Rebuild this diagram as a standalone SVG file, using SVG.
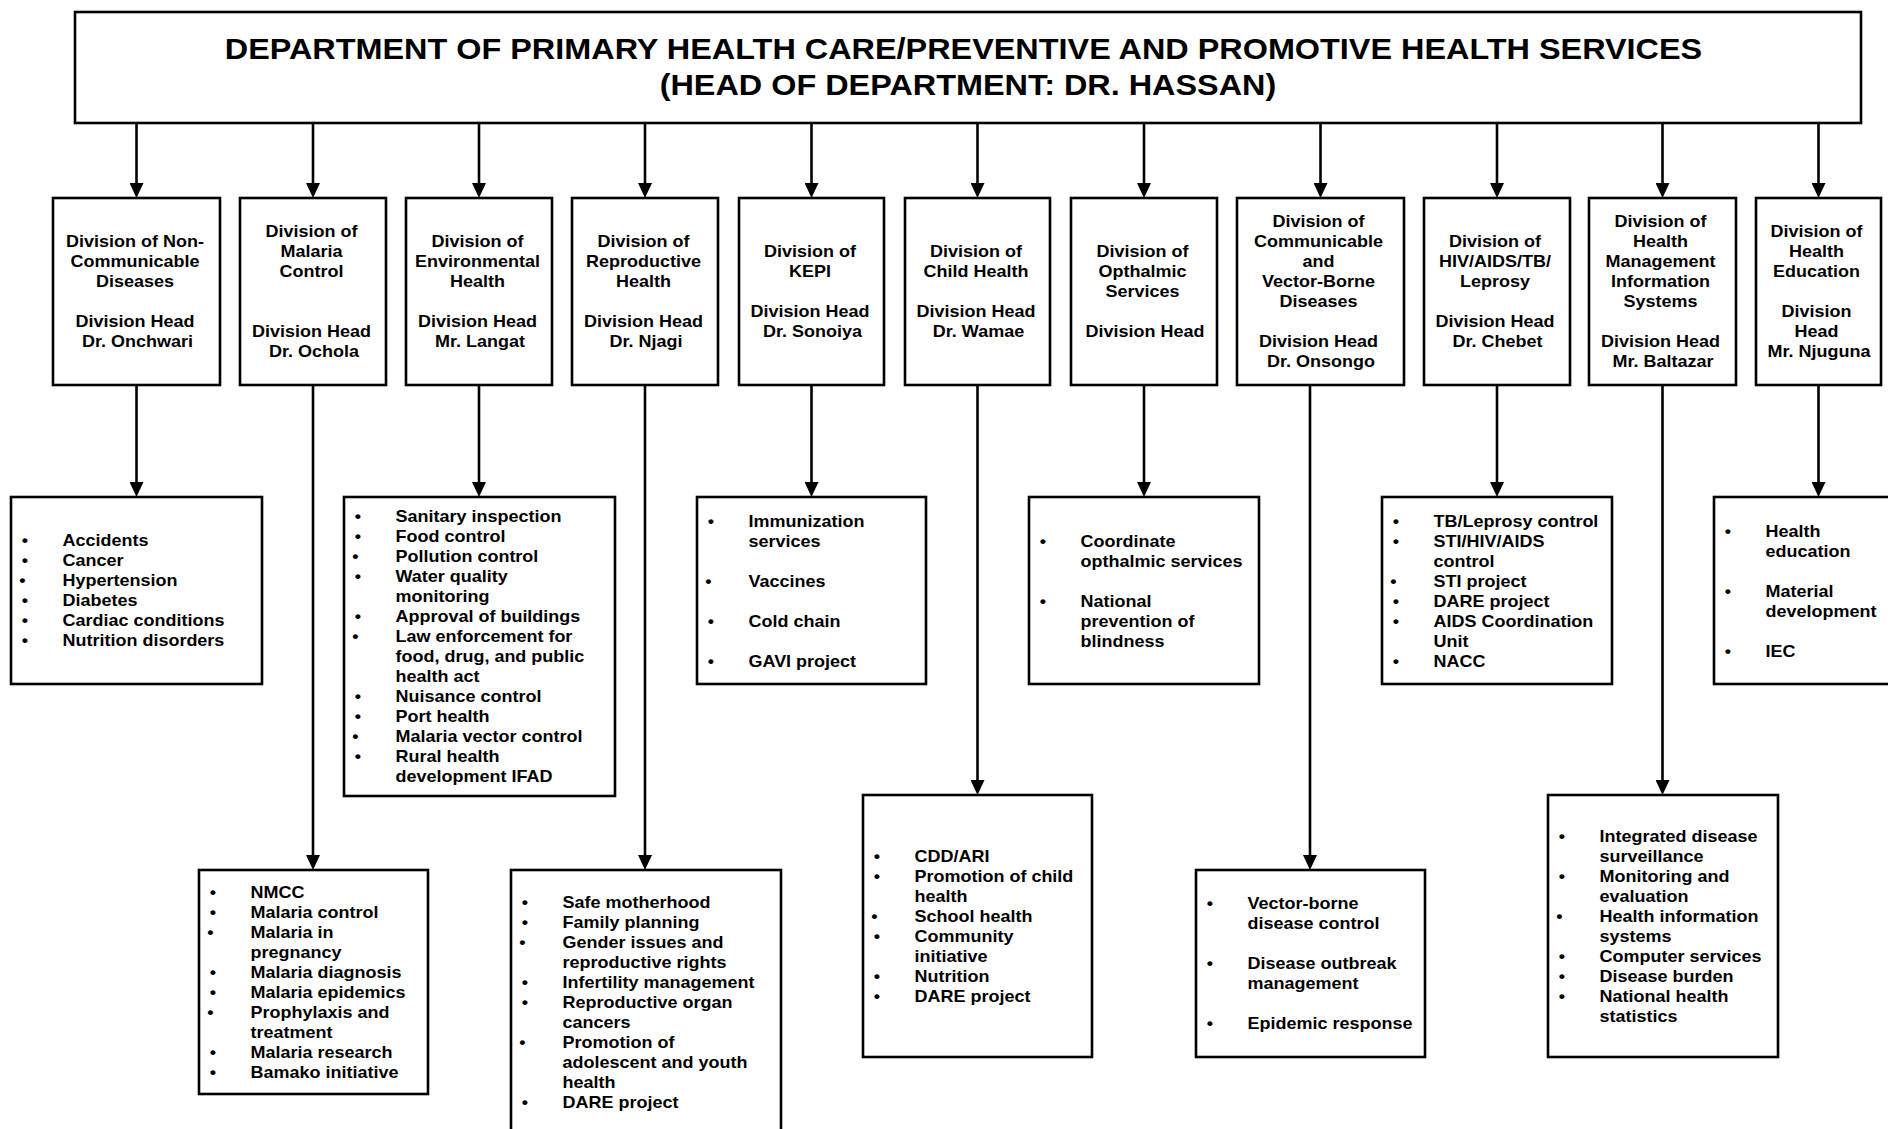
<svg xmlns="http://www.w3.org/2000/svg" width="1888" height="1129" viewBox="0 0 1888 1129">
  <defs>
    <style>
      /* all lettering is set slightly condensed vertically; y values in text are pre-divided by 0.9 */
      text { font-family: "Liberation Sans", Arial, Helvetica, sans-serif; font-weight: bold; fill: #000;
             transform: scale(1, 0.9); transform-origin: 0 0; transform-box: view-box; }
      .title { font-size: 32.4px; text-anchor: middle; }
      .dv { font-size: 18px; text-anchor: middle; }
      .li { font-size: 18px; }
      .bu { font-size: 18px; text-anchor: middle; }
      .box { fill: #fff; stroke: #000; stroke-width: 2.6; }
      .wire { fill: none; stroke: #000; stroke-width: 2.6; marker-end: url(#arrow); }
    </style>
    <marker id="arrow" viewBox="0 0 15 14" refX="7" refY="7" markerWidth="15" markerHeight="14" markerUnits="userSpaceOnUse" orient="auto">
      <path d="M0,0 L15,7 L0,14 z" fill="#000"/>
    </marker>
  </defs>

  <rect width="1888" height="1129" fill="#fff"/>

  <!-- connectors: department to divisions, divisions to their service lists -->
  <g id="connectors">
    <line class="wire" x1="136.5" y1="123" x2="136.5" y2="190"/>
    <line class="wire" x1="313" y1="123" x2="313" y2="190"/>
    <line class="wire" x1="479" y1="123" x2="479" y2="190"/>
    <line class="wire" x1="645" y1="123" x2="645" y2="190"/>
    <line class="wire" x1="811.5" y1="123" x2="811.5" y2="190"/>
    <line class="wire" x1="977.5" y1="123" x2="977.5" y2="190"/>
    <line class="wire" x1="1144" y1="123" x2="1144" y2="190"/>
    <line class="wire" x1="1320.5" y1="123" x2="1320.5" y2="190"/>
    <line class="wire" x1="1497" y1="123" x2="1497" y2="190"/>
    <line class="wire" x1="1662.5" y1="123" x2="1662.5" y2="190"/>
    <line class="wire" x1="1818.5" y1="123" x2="1818.5" y2="190"/>

    <line class="wire" x1="136.5" y1="385" x2="136.5" y2="489"/>
    <line class="wire" x1="313" y1="385" x2="313" y2="862"/>
    <line class="wire" x1="479" y1="385" x2="479" y2="489"/>
    <line class="wire" x1="645" y1="385" x2="645" y2="862"/>
    <line class="wire" x1="811.5" y1="385" x2="811.5" y2="489"/>
    <line class="wire" x1="977.5" y1="385" x2="977.5" y2="787"/>
    <line class="wire" x1="1144" y1="385" x2="1144" y2="489"/>
    <line class="wire" x1="1310" y1="385" x2="1310" y2="862"/>
    <line class="wire" x1="1497" y1="385" x2="1497" y2="489"/>
    <line class="wire" x1="1662.5" y1="385" x2="1662.5" y2="787"/>
    <line class="wire" x1="1818.5" y1="385" x2="1818.5" y2="489"/>
  </g>

  <!-- department -->
  <g id="department">
    <rect class="box" x="75" y="12" width="1786" height="111"/>
    <text class="title">
      <tspan x="968" y="66.1">DEPARTMENT OF PRIMARY HEALTH CARE/PREVENTIVE AND PROMOTIVE HEALTH SERVICES</tspan>
      <tspan x="968" y="105.6">(HEAD OF DEPARTMENT: DR. HASSAN)</tspan>
    </text>
  </g>

  <!-- divisions -->
  <g id="div-ncd">
    <rect class="box" x="53" y="198" width="167" height="187"/>
    <text class="dv">
      <tspan x="137.5" y="274.44">Division of Non-</tspan>
      <tspan x="137.5" y="296.67">Communicable</tspan>
      <tspan x="137.5" y="318.89">Diseases</tspan>
      <tspan x="137.5" y="363.33">Division Head</tspan>
      <tspan x="137.5" y="385.56">Dr. Onchwari</tspan>
    </text>
  </g>
  <g id="div-malaria">
    <rect class="box" x="240" y="198" width="146" height="187"/>
    <text class="dv">
      <tspan x="314" y="263.33">Division of</tspan>
      <tspan x="314" y="285.56">Malaria</tspan>
      <tspan x="314" y="307.78">Control</tspan>
      <tspan x="314" y="374.44">Division Head</tspan>
      <tspan x="314" y="396.67">Dr. Ochola</tspan>
    </text>
  </g>
  <g id="div-environmental">
    <rect class="box" x="406" y="198" width="146" height="187"/>
    <text class="dv">
      <tspan x="480" y="274.44">Division of</tspan>
      <tspan x="480" y="296.67">Environmental</tspan>
      <tspan x="480" y="318.89">Health</tspan>
      <tspan x="480" y="363.33">Division Head</tspan>
      <tspan x="480" y="385.56">Mr. Langat</tspan>
    </text>
  </g>
  <g id="div-reproductive">
    <rect class="box" x="572" y="198" width="146" height="187"/>
    <text class="dv">
      <tspan x="646" y="274.44">Division of</tspan>
      <tspan x="646" y="296.67">Reproductive</tspan>
      <tspan x="646" y="318.89">Health</tspan>
      <tspan x="646" y="363.33">Division Head</tspan>
      <tspan x="646" y="385.56">Dr. Njagi</tspan>
    </text>
  </g>
  <g id="div-kepi">
    <rect class="box" x="739" y="198" width="145" height="187"/>
    <text class="dv">
      <tspan x="812.5" y="285.56">Division of</tspan>
      <tspan x="812.5" y="307.78">KEPI</tspan>
      <tspan x="812.5" y="352.22">Division Head</tspan>
      <tspan x="812.5" y="374.44">Dr. Sonoiya</tspan>
    </text>
  </g>
  <g id="div-child">
    <rect class="box" x="905" y="198" width="145" height="187"/>
    <text class="dv">
      <tspan x="978.5" y="285.56">Division of</tspan>
      <tspan x="978.5" y="307.78">Child Health</tspan>
      <tspan x="978.5" y="352.22">Division Head</tspan>
      <tspan x="978.5" y="374.44">Dr. Wamae</tspan>
    </text>
  </g>
  <g id="div-opthalmic">
    <rect class="box" x="1071" y="198" width="146" height="187"/>
    <text class="dv">
      <tspan x="1145" y="285.56">Division of</tspan>
      <tspan x="1145" y="307.78">Opthalmic</tspan>
      <tspan x="1145" y="330">Services</tspan>
      <tspan x="1145" y="374.44">Division Head</tspan>
    </text>
  </g>
  <g id="div-communicable">
    <rect class="box" x="1237" y="198" width="167" height="187"/>
    <text class="dv">
      <tspan x="1321" y="252.22">Division of</tspan>
      <tspan x="1321" y="274.44">Communicable</tspan>
      <tspan x="1321" y="296.67">and</tspan>
      <tspan x="1321" y="318.89">Vector-Borne</tspan>
      <tspan x="1321" y="341.11">Diseases</tspan>
      <tspan x="1321" y="385.56">Division Head</tspan>
      <tspan x="1321" y="407.78">Dr. Onsongo</tspan>
    </text>
  </g>
  <g id="div-hiv">
    <rect class="box" x="1424" y="198" width="146" height="187"/>
    <text class="dv">
      <tspan x="1497.5" y="274.44">Division of</tspan>
      <tspan x="1497.5" y="296.67">HIV/AIDS/TB/</tspan>
      <tspan x="1497.5" y="318.89">Leprosy</tspan>
      <tspan x="1497.5" y="363.33">Division Head</tspan>
      <tspan x="1497.5" y="385.56">Dr. Chebet</tspan>
    </text>
  </g>
  <g id="div-hmis">
    <rect class="box" x="1589" y="198" width="147" height="187"/>
    <text class="dv">
      <tspan x="1663" y="252.22">Division of</tspan>
      <tspan x="1663" y="274.44">Health</tspan>
      <tspan x="1663" y="296.67">Management</tspan>
      <tspan x="1663" y="318.89">Information</tspan>
      <tspan x="1663" y="341.11">Systems</tspan>
      <tspan x="1663" y="385.56">Division Head</tspan>
      <tspan x="1663" y="407.78">Mr. Baltazar</tspan>
    </text>
  </g>
  <g id="div-health-education">
    <rect class="box" x="1756" y="198" width="125" height="187"/>
    <text class="dv">
      <tspan x="1819" y="263.33">Division of</tspan>
      <tspan x="1819" y="285.56">Health</tspan>
      <tspan x="1819" y="307.78">Education</tspan>
      <tspan x="1819" y="352.22">Division</tspan>
      <tspan x="1819" y="374.44">Head</tspan>
      <tspan x="1819" y="396.67">Mr. Njuguna</tspan>
    </text>
  </g>

  <!-- service lists -->
  <g id="svc-ncd">
    <rect class="box" x="11" y="497" width="251" height="187"/>
    <text class="bu">
      <tspan x="25" y="606.67">•</tspan><tspan x="25" y="628.89">•</tspan><tspan x="25" y="651.11">•</tspan>
      <tspan x="25" y="673.33">•</tspan><tspan x="25" y="695.56">•</tspan><tspan x="25" y="717.78">•</tspan>
    </text>
    <text class="li">
      <tspan x="62.5" y="606.67">Accidents</tspan>
      <tspan x="62.5" y="628.89">Cancer</tspan>
      <tspan x="62.5" y="651.11">Hypertension</tspan>
      <tspan x="62.5" y="673.33">Diabetes</tspan>
      <tspan x="62.5" y="695.56">Cardiac conditions</tspan>
      <tspan x="62.5" y="717.78">Nutrition disorders</tspan>
    </text>
  </g>
  <g id="svc-environmental">
    <rect class="box" x="344" y="497" width="271" height="299"/>
    <text class="bu">
      <tspan x="358" y="580">•</tspan><tspan x="358" y="602.22">•</tspan><tspan x="358" y="624.44">•</tspan>
      <tspan x="358" y="646.67">•</tspan><tspan x="358" y="691.11">•</tspan><tspan x="358" y="713.33">•</tspan>
      <tspan x="358" y="780">•</tspan><tspan x="358" y="802.22">•</tspan><tspan x="358" y="824.44">•</tspan>
      <tspan x="358" y="846.67">•</tspan>
    </text>
    <text class="li">
      <tspan x="395.5" y="580">Sanitary inspection</tspan>
      <tspan x="395.5" y="602.22">Food control</tspan>
      <tspan x="395.5" y="624.44">Pollution control</tspan>
      <tspan x="395.5" y="646.67">Water quality</tspan>
      <tspan x="395.5" y="668.89">monitoring</tspan>
      <tspan x="395.5" y="691.11">Approval of buildings</tspan>
      <tspan x="395.5" y="713.33">Law enforcement for</tspan>
      <tspan x="395.5" y="735.56">food, drug, and public</tspan>
      <tspan x="395.5" y="757.78">health act</tspan>
      <tspan x="395.5" y="780">Nuisance control</tspan>
      <tspan x="395.5" y="802.22">Port health</tspan>
      <tspan x="395.5" y="824.44">Malaria vector control</tspan>
      <tspan x="395.5" y="846.67">Rural health</tspan>
      <tspan x="395.5" y="868.89">development IFAD</tspan>
    </text>
  </g>
  <g id="svc-malaria">
    <rect class="box" x="199" y="870" width="229" height="224"/>
    <text class="bu">
      <tspan x="213" y="997.78">•</tspan><tspan x="213" y="1020">•</tspan><tspan x="213" y="1042.22">•</tspan>
      <tspan x="213" y="1086.67">•</tspan><tspan x="213" y="1108.89">•</tspan><tspan x="213" y="1131.11">•</tspan>
      <tspan x="213" y="1175.56">•</tspan><tspan x="213" y="1197.78">•</tspan>
    </text>
    <text class="li">
      <tspan x="250.5" y="997.78">NMCC</tspan>
      <tspan x="250.5" y="1020">Malaria control</tspan>
      <tspan x="250.5" y="1042.22">Malaria in</tspan>
      <tspan x="250.5" y="1064.44">pregnancy</tspan>
      <tspan x="250.5" y="1086.67">Malaria diagnosis</tspan>
      <tspan x="250.5" y="1108.89">Malaria epidemics</tspan>
      <tspan x="250.5" y="1131.11">Prophylaxis and</tspan>
      <tspan x="250.5" y="1153.33">treatment</tspan>
      <tspan x="250.5" y="1175.56">Malaria research</tspan>
      <tspan x="250.5" y="1197.78">Bamako initiative</tspan>
    </text>
  </g>
  <g id="svc-reproductive">
    <rect class="box" x="511" y="870" width="270" height="275"/>
    <text class="bu">
      <tspan x="525" y="1008.89">•</tspan><tspan x="525" y="1031.11">•</tspan><tspan x="525" y="1053.33">•</tspan>
      <tspan x="525" y="1097.78">•</tspan><tspan x="525" y="1120">•</tspan><tspan x="525" y="1164.44">•</tspan>
      <tspan x="525" y="1231.11">•</tspan>
    </text>
    <text class="li">
      <tspan x="562.5" y="1008.89">Safe motherhood</tspan>
      <tspan x="562.5" y="1031.11">Family planning</tspan>
      <tspan x="562.5" y="1053.33">Gender issues and</tspan>
      <tspan x="562.5" y="1075.56">reproductive rights</tspan>
      <tspan x="562.5" y="1097.78">Infertility management</tspan>
      <tspan x="562.5" y="1120">Reproductive organ</tspan>
      <tspan x="562.5" y="1142.22">cancers</tspan>
      <tspan x="562.5" y="1164.44">Promotion of</tspan>
      <tspan x="562.5" y="1186.67">adolescent and youth</tspan>
      <tspan x="562.5" y="1208.89">health</tspan>
      <tspan x="562.5" y="1231.11">DARE project</tspan>
    </text>
  </g>
  <g id="svc-kepi">
    <rect class="box" x="697" y="497" width="229" height="187"/>
    <text class="bu">
      <tspan x="711" y="585.56">•</tspan><tspan x="711" y="652.22">•</tspan>
      <tspan x="711" y="696.67">•</tspan><tspan x="711" y="741.11">•</tspan>
    </text>
    <text class="li">
      <tspan x="748.5" y="585.56">Immunization</tspan>
      <tspan x="748.5" y="607.78">services</tspan>
      <tspan x="748.5" y="652.22">Vaccines</tspan>
      <tspan x="748.5" y="696.67">Cold chain</tspan>
      <tspan x="748.5" y="741.11">GAVI project</tspan>
    </text>
  </g>
  <g id="svc-child">
    <rect class="box" x="863" y="795" width="229" height="262"/>
    <text class="bu">
      <tspan x="877" y="957.78">•</tspan><tspan x="877" y="980">•</tspan><tspan x="877" y="1024.44">•</tspan>
      <tspan x="877" y="1046.67">•</tspan><tspan x="877" y="1091.11">•</tspan><tspan x="877" y="1113.33">•</tspan>
    </text>
    <text class="li">
      <tspan x="914.5" y="957.78">CDD/ARI</tspan>
      <tspan x="914.5" y="980">Promotion of child</tspan>
      <tspan x="914.5" y="1002.22">health</tspan>
      <tspan x="914.5" y="1024.44">School health</tspan>
      <tspan x="914.5" y="1046.67">Community</tspan>
      <tspan x="914.5" y="1068.89">initiative</tspan>
      <tspan x="914.5" y="1091.11">Nutrition</tspan>
      <tspan x="914.5" y="1113.33">DARE project</tspan>
    </text>
  </g>
  <g id="svc-opthalmic">
    <rect class="box" x="1029" y="497" width="230" height="187"/>
    <text class="bu">
      <tspan x="1043" y="607.78">•</tspan><tspan x="1043" y="674.44">•</tspan>
    </text>
    <text class="li">
      <tspan x="1080.5" y="607.78">Coordinate</tspan>
      <tspan x="1080.5" y="630">opthalmic services</tspan>
      <tspan x="1080.5" y="674.44">National</tspan>
      <tspan x="1080.5" y="696.67">prevention of</tspan>
      <tspan x="1080.5" y="718.89">blindness</tspan>
    </text>
  </g>
  <g id="svc-communicable">
    <rect class="box" x="1196" y="870" width="229" height="187"/>
    <text class="bu">
      <tspan x="1210" y="1010">•</tspan><tspan x="1210" y="1076.67">•</tspan><tspan x="1210" y="1143.33">•</tspan>
    </text>
    <text class="li">
      <tspan x="1247.5" y="1010">Vector-borne</tspan>
      <tspan x="1247.5" y="1032.22">disease control</tspan>
      <tspan x="1247.5" y="1076.67">Disease outbreak</tspan>
      <tspan x="1247.5" y="1098.89">management</tspan>
      <tspan x="1247.5" y="1143.33">Epidemic response</tspan>
    </text>
  </g>
  <g id="svc-hiv">
    <rect class="box" x="1382" y="497" width="230" height="187"/>
    <text class="bu">
      <tspan x="1396" y="585.56">•</tspan><tspan x="1396" y="607.78">•</tspan><tspan x="1396" y="652.22">•</tspan>
      <tspan x="1396" y="674.44">•</tspan><tspan x="1396" y="696.67">•</tspan><tspan x="1396" y="741.11">•</tspan>
    </text>
    <text class="li">
      <tspan x="1433.5" y="585.56">TB/Leprosy control</tspan>
      <tspan x="1433.5" y="607.78">STI/HIV/AIDS</tspan>
      <tspan x="1433.5" y="630">control</tspan>
      <tspan x="1433.5" y="652.22">STI project</tspan>
      <tspan x="1433.5" y="674.44">DARE project</tspan>
      <tspan x="1433.5" y="696.67">AIDS Coordination</tspan>
      <tspan x="1433.5" y="718.89">Unit</tspan>
      <tspan x="1433.5" y="741.11">NACC</tspan>
    </text>
  </g>
  <g id="svc-hmis">
    <rect class="box" x="1548" y="795" width="230" height="262"/>
    <text class="bu">
      <tspan x="1562" y="935.56">•</tspan><tspan x="1562" y="980">•</tspan><tspan x="1562" y="1024.44">•</tspan>
      <tspan x="1562" y="1068.89">•</tspan><tspan x="1562" y="1091.11">•</tspan><tspan x="1562" y="1113.33">•</tspan>
    </text>
    <text class="li">
      <tspan x="1599.5" y="935.56">Integrated disease</tspan>
      <tspan x="1599.5" y="957.78">surveillance</tspan>
      <tspan x="1599.5" y="980">Monitoring and</tspan>
      <tspan x="1599.5" y="1002.22">evaluation</tspan>
      <tspan x="1599.5" y="1024.44">Health information</tspan>
      <tspan x="1599.5" y="1046.67">systems</tspan>
      <tspan x="1599.5" y="1068.89">Computer services</tspan>
      <tspan x="1599.5" y="1091.11">Disease burden</tspan>
      <tspan x="1599.5" y="1113.33">National health</tspan>
      <tspan x="1599.5" y="1135.56">statistics</tspan>
    </text>
  </g>
  <g id="svc-health-education">
    <rect class="box" x="1714" y="497" width="190" height="187"/>
    <text class="bu">
      <tspan x="1728" y="596.67">•</tspan><tspan x="1728" y="663.33">•</tspan><tspan x="1728" y="730">•</tspan>
    </text>
    <text class="li">
      <tspan x="1765.5" y="596.67">Health</tspan>
      <tspan x="1765.5" y="618.89">education</tspan>
      <tspan x="1765.5" y="663.33">Material</tspan>
      <tspan x="1765.5" y="685.56">development</tspan>
      <tspan x="1765.5" y="730">IEC</tspan>
    </text>
  </g>
</svg>
